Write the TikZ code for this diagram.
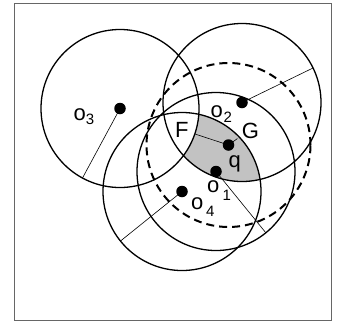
\documentclass[tikz,border=0pt]{standalone}
\usepackage{fontspec}
\setmainfont{Liberation Sans}
\begin{document}
\begin{tikzpicture}[x=1pt,y=-1pt,
  circ/.style={line width=1.3pt},
  dashcirc/.style={line width=2pt,dash pattern=on 8pt off 5pt},
  rad/.style={line width=0.6pt},
  dot/.style={circle,fill=black,inner sep=0pt,minimum size=11.5pt},
  lab/.style={inner sep=0pt,anchor=base west,font=\fontsize{22}{22}\selectfont},
  sublab/.style={inner sep=0pt,anchor=base west,font=\fontsize{15}{15}\selectfont},
  frame/.style={line width=0.9pt,draw=black!60}]
\useasboundingbox (0,0) rectangle (343,322);
\draw[frame] (14,3.3) rectangle (331.7,320.7);
% centres
\coordinate (c1) at (216,171.5);
\coordinate (c2) at (242,102.5);
\coordinate (c3) at (120,108.5);
\coordinate (c4) at (182,191.5);
\coordinate (cq) at (228.5,145);
% shaded region: inside o2 and o4, outside o3
\begin{scope}
  \clip (c2) circle[radius=79pt];
  \clip (c4) circle[radius=79pt];
  \fill[black!24,even odd rule] (0,0) rectangle (343,322) (c3) circle[radius=79pt];
\end{scope}
% circles
\draw[circ] (c1) circle[radius=79pt];
\draw[circ] (c2) circle[radius=79pt];
\draw[circ] (c3) circle[radius=79pt];
\draw[circ] (c4) circle[radius=79pt];
\draw[dashcirc] (cq) circle[radius=82pt];
% radius end points
\coordinate (e1) at (266,233);
\coordinate (e2) at (313,68);
\coordinate (e3) at (82.5,178);
\coordinate (e4) at (120.5,241);
\coordinate (fq) at (195,134);
\coordinate (gq) at (237.5,138.5);
\draw[rad] (c1) -- (e1);
\draw[rad] (c2) -- (e2);
\draw[rad] (c3) -- (e3);
\draw[rad] (c4) -- (e4);
\draw[rad] (cq) -- (fq);
\draw[rad] (cq) -- (gq);
% dots
\node[dot] (o1) at (c1) {};
\node[dot] (o2) at (c2) {};
\node[dot] (o3) at (c3) {};
\node[dot] (o4) at (c4) {};
\node[dot] (q) at (cq) {};
% labels
\node[lab] (l3) at (73.3,120.7) {o};
\node[sublab] (s3) at (85.7,124.3) {3};
\node[lab] (l2) at (210.5,117) {o};
\node[sublab] (s2) at (223.5,122.5) {2};
\node[lab] (lF) at (175,137.5) {F};
\node[lab] (lG) at (241.7,138.5) {G};
\node[lab] (lq) at (228.5,167) {q};
\node[lab] (l1) at (207,192) {o};
\node[sublab] (s1) at (222.5,200.5) {1};
\node[lab] (l4) at (191,209.5) {o};
\node[sublab] (s4) at (206,216.5) {4};
\end{tikzpicture}
\end{document}
